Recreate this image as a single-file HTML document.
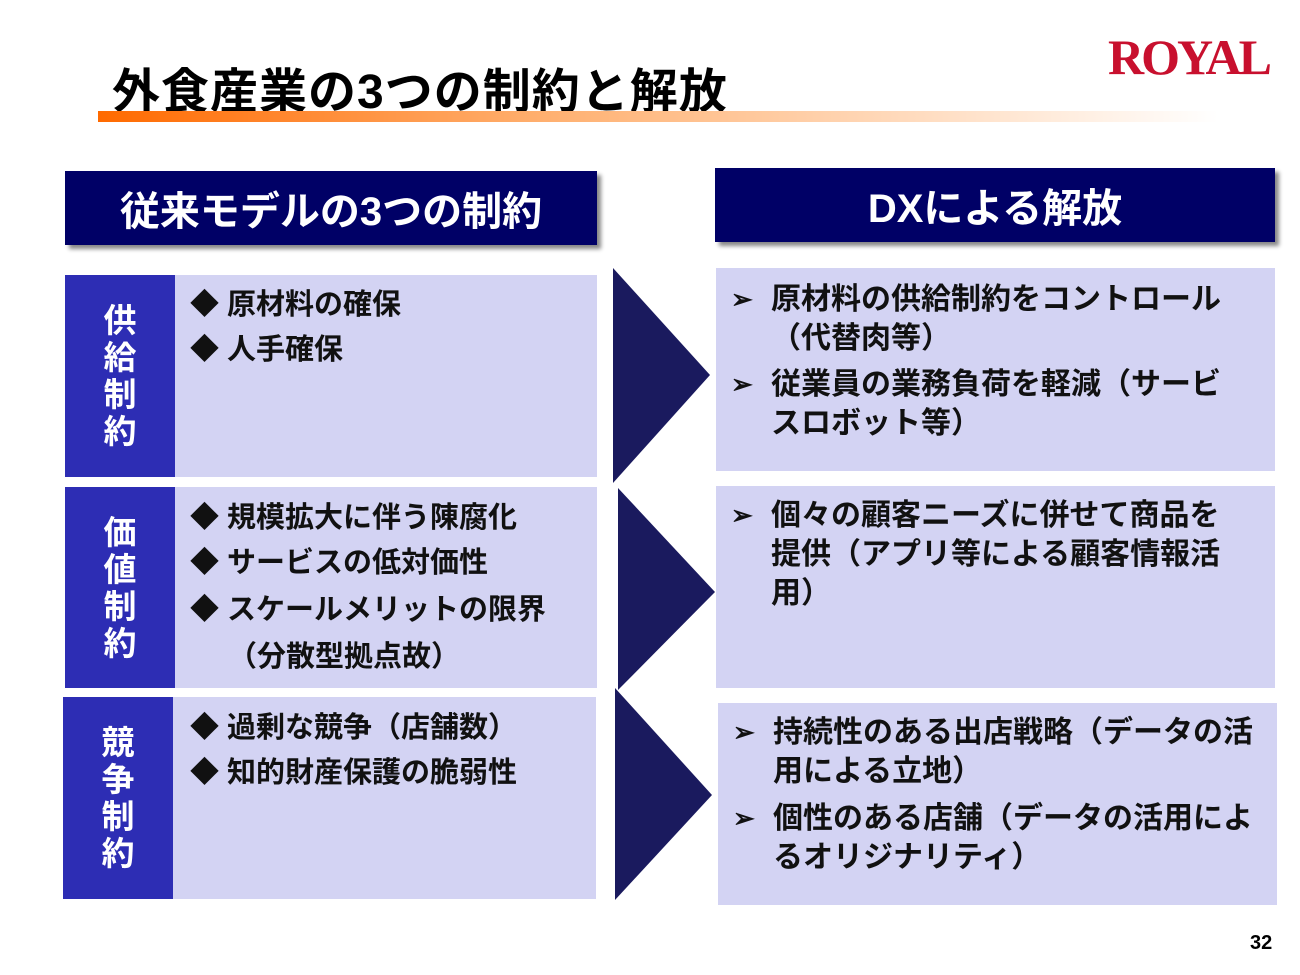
<!DOCTYPE html>
<html><head><meta charset="utf-8"><style>
body{margin:0;width:1300px;height:975px;background:#fff;position:relative;overflow:hidden;font-family:"Liberation Sans","Noto Sans CJK JP",sans-serif;font-weight:bold}
.a{position:absolute}
.hdr{background:#000066;color:#fff;font-size:40px;text-align:center;box-shadow:4px 4px 4px #888;display:flex;align-items:center;justify-content:center}
.lab{background:#2d2db4;color:#fff;font-size:33px;line-height:37px;display:flex;align-items:center;justify-content:center;text-align:center}
.cnt{background:#d3d3f3;font-size:29px;color:#111}
.cnt div{position:absolute;white-space:nowrap}
.r{background:#d3d3f3;font-size:30px;color:#111;line-height:39px}
.r p{margin:0;position:absolute;left:55px;right:0;white-space:nowrap}
.r span{position:absolute;left:-40px;top:0;font-size:26px}
</style></head><body>
<div class="a" style="left:112px;top:52px;font-size:48px;color:#000;letter-spacing:1px">外食産業の3つの制約と解放</div>
<div class="a" style="left:1108px;top:28px;font-family:'Liberation Serif',serif;font-size:50px;color:#c8102e;font-weight:bold;letter-spacing:-3px">ROYAL</div>
<div class="a" style="left:98px;top:111px;width:1120px;height:11px;background:linear-gradient(90deg,#ff6a00,#ffb070 40%,#fff)"></div>

<div class="a hdr" style="left:65px;top:171px;width:532px;height:74px">従来モデルの3つの制約</div>
<div class="a hdr" style="left:715px;top:168px;width:560px;height:74px">DXによる解放</div>

<div class="a lab" style="left:65px;top:275px;width:110px;height:202px">供<br>給<br>制<br>約</div>
<div class="a cnt" style="left:175px;top:275px;width:422px;height:202px"><div style="left:15px;top:6px">◆ 原材料の確保</div><div style="left:15px;top:51px">◆ 人手確保</div></div>
<div class="a lab" style="left:65px;top:487px;width:110px;height:201px">価<br>値<br>制<br>約</div>
<div class="a cnt" style="left:175px;top:487px;width:422px;height:201px"><div style="left:15px;top:7px">◆ 規模拡大に伴う陳腐化</div><div style="left:15px;top:52px">◆ サービスの低対価性</div><div style="left:15px;top:99px">◆ スケールメリットの限界</div><div style="left:53px;top:146px">（分散型拠点故）</div></div>
<div class="a lab" style="left:63px;top:697px;width:110px;height:202px">競<br>争<br>制<br>約</div>
<div class="a cnt" style="left:173px;top:697px;width:423px;height:202px"><div style="left:17px;top:7px">◆ 過剰な競争（店舗数）</div><div style="left:17px;top:52px">◆ 知的財産保護の脆弱性</div></div>

<svg class="a" style="left:0;top:0" width="1300" height="975">
<polygon points="613,268 710,375 613,483" fill="#1a1a5e"/>
<polygon points="618,488 715,592 618,690" fill="#1a1a5e"/>
<polygon points="615,688 712,795 615,900" fill="#1a1a5e"/>
</svg>

<div class="a r" style="left:716px;top:268px;width:559px;height:203px">
<p style="top:12px"><span>➢</span>原材料の供給制約をコントロール<br>（代替肉等）</p>
<p style="top:97px"><span>➢</span>従業員の業務負荷を軽減（サービ<br>スロボット等）</p></div>
<div class="a r" style="left:716px;top:486px;width:559px;height:202px">
<p style="top:10px"><span>➢</span>個々の顧客ニーズに併せて商品を<br>提供（アプリ等による顧客情報活<br>用）</p></div>
<div class="a r" style="left:718px;top:703px;width:559px;height:202px">
<p style="top:10px"><span>➢</span>持続性のある出店戦略（データの活<br>用による立地）</p>
<p style="top:96px"><span>➢</span>個性のある店舗（データの活用によ<br>るオリジナリティ）</p></div>

<div class="a" style="left:1250px;top:932px;font-size:20px;color:#000">32</div>
</body></html>
